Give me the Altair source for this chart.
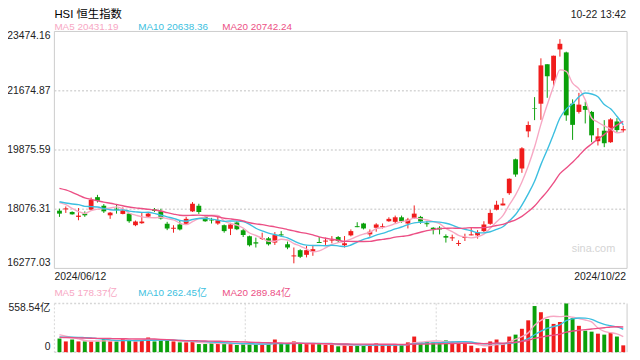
import altair as alt
import pandas as pd

# ---------------- data ----------------
title_text = "HSI 恒生指数"
time_text = "10-22 13:42"
date_labels = ["2024/06/12", "2024/10/22"]
y_ticks = [23474.16, 21674.87, 19875.59, 18076.31, 16277.03]
y_tick_labels = ["23474.16", "21674.87", "19875.59", "18076.31", "16277.03"]
vol_ticks = [558.54, 0]
vol_tick_labels = ["558.54亿", "0"]
ma_names = ["MA5", "MA10", "MA20"]
ma_price_text = ["20431.19", "20638.36", "20742.24"]
ma_vol_text = ["178.37亿", "262.45亿", "289.84亿"]

# closes / volumes of the sessions before the first candle (feed the moving averages)
pre_close = [19073.71, 19376.53, 19553.61, 19636.22, 19220.62, 19195.60, 18868.71, 18608.94,
             18827.35, 18821.16, 18477.01, 18230.19, 18079.61, 18403.04, 18444.11, 18424.96,
             18475.95, 18366.95, 18176.34]
pre_volume = [170, 180, 160, 165, 170, 150, 165, 160, 165, 165,
              150, 155, 145, 150, 154, 200, 215, 210, 215]

open_ = [18031, 18070, 17992, 17842, 17941, 18061, 18442, 18181, 17890, 18091,
         17932, 17941, 17590, 17650, 17851, 18070, 18010, 17632, 17482, 17611,
         17632, 18010, 18181, 17842, 17752, 17641, 17590, 17482, 17671, 17440,
         17251, 17071, 17170, 17191, 17062, 17311, 17011, 16642, 16831, 16690,
         16780, 17080, 17092, 17122, 17230, 16981, 17281, 17560, 17641, 17311,
         17512, 17530, 17710, 17692, 17830, 17641, 17812, 17842, 17650, 17512,
         17512, 17260, 17191, 17020, 17200, 17281, 17281, 17410, 17632, 18061,
         18190, 18562, 19591, 19312, 20440, 21150, 21280, 22478, 21980, 22928,
         22838, 21280, 21030, 21210, 21030, 20140, 20460, 20110, 20740, 20470]
high = [18091, 18160, 18010, 18112, 18010, 18430, 18511, 18232, 17992, 18211,
        18130, 17962, 17731, 17980, 17980, 18112, 18091, 17692, 17590, 17740,
        17842, 18292, 18241, 17860, 17812, 17842, 17611, 17662, 17710, 17482,
        17272, 17212, 17362, 17230, 17380, 17410, 17092, 16912, 16861, 16960,
        16990, 17230, 17212, 17260, 17260, 17260, 17461, 17680, 17662, 17461,
        17650, 17641, 17830, 17881, 17881, 17812, 18190, 17872, 17710, 17530,
        17560, 17311, 17302, 17131, 17332, 17530, 17440, 17710, 18061, 18331,
        18412, 19012, 19612, 19960, 20740, 21480, 22658, 22478, 22740, 23240,
        22860, 21411, 21609, 21339, 21060, 20541, 20781, 20841, 20841, 20611]
low = [17842, 17962, 17911, 17740, 17842, 18031, 18280, 17962, 17782, 17941,
       17920, 17662, 17560, 17632, 17812, 17992, 17761, 17440, 17362, 17431,
       17611, 17992, 17932, 17692, 17641, 17602, 17362, 17290, 17440, 17230,
       16942, 16912, 17140, 16972, 16990, 17230, 16861, 16432, 16591, 16612,
       16660, 17050, 16990, 17041, 17062, 16912, 17251, 17530, 17461, 17242,
       17392, 17491, 17692, 17632, 17662, 17491, 17782, 17632, 17542, 17311,
       17311, 17062, 17110, 16960, 17110, 17281, 17182, 17380, 17602, 18040,
       18190, 18511, 19060, 19180, 20260, 20781, 20790, 21459, 21810, 22710,
       20760, 20181, 20980, 20680, 20110, 20010, 19960, 20091, 20410, 20410]
close = [17941, 18100, 17920, 17881, 17890, 18361, 18331, 18010, 17971, 18061,
         18040, 17710, 17701, 17701, 17941, 18022, 17791, 17491, 17512, 17461,
         17782, 18241, 17992, 17710, 17731, 17740, 17410, 17611, 17470, 17290,
         16981, 17032, 17200, 17011, 17290, 17281, 16912, 16672, 16630, 16831,
         16861, 17050, 17122, 17152, 17110, 17041, 17410, 17530, 17491, 17392,
         17611, 17560, 17782, 17830, 17710, 17761, 17941, 17701, 17620, 17461,
         17461, 17212, 17221, 17050, 17230, 17311, 17380, 17611, 17962, 18211,
         18247.65, 19000.56, 19129.10, 19924.58, 20632.30, 21133.68, 22443.73, 22113.51, 22736.87, 23099.78,
         20926.79, 20637.24, 21251.98, 21092.87, 20318.79, 20286.77, 20079.11, 20804.11, 20478.46, 20507.50]
volume = [156, 123, 145, 123, 123, 123, 123, 156, 123, 123,
          156, 138, 123, 138, 168, 123, 138, 138, 123, 112,
          112, 123, 93, 93, 104, 93, 104, 93, 82, 93,
          93, 93, 82, 93, 145, 93, 93, 123, 93, 93,
          93, 93, 82, 82, 67, 82, 74, 82, 82, 82,
          100, 82, 82, 82, 82, 112, 179, 112, 123, 112,
          112, 134, 112, 112, 93, 74, 45, 45, 123, 145,
          93, 179, 201, 268, 365, 529, 458, 380, 324, 346,
          558.54, 391, 302, 246, 235, 212, 201, 223, 179, 78]

# ---------------- styling ----------------
RED = "#f01c1c"
GREEN = "#0aa00a"
C_MA = ["#f7a8c4", "#3cbfe0", "#ec4f85"]
FONT = "Liberation Sans, Arial, Noto Sans CJK SC"
TXT = "#222222"
GRID = "#d6d6d6"
FRAME = "#cccccc"

X_L, X_R = 47, 627
P_TOP, P_BOT = 21.5, 261.5
V_TOP, V_BOT = 297, 346.3

n = len(close)
xs = alt.Scale(domain=[-0.8, 89.6], range=[X_L, X_R], nice=False, zero=False)
ys = alt.Scale(domain=[y_ticks[-1], y_ticks[0]], range=[P_BOT, P_TOP], nice=False, zero=False)
vs = alt.Scale(domain=[0, vol_ticks[0]], range=[V_BOT, V_TOP], nice=False, zero=False)

df = pd.DataFrame({"i": list(range(n)), "open": open_, "high": high, "low": low,
                   "close": close, "vol": volume})
hist = pd.DataFrame({"i": list(range(-len(pre_close), n)),
                     "close": pre_close + close, "vol": pre_volume + volume})

up_color = alt.condition("datum.close >= datum.open", alt.value(RED), alt.value(GREEN))
X = alt.X("i:Q", scale=xs, axis=None)

base = alt.Chart(df)

wicks = base.mark_rule(strokeWidth=1).encode(
    x=X, y=alt.Y("low:Q", scale=ys, axis=None), y2="high:Q", color=up_color)

bodies = base.transform_calculate(xl="datum.i - 0.38", xr="datum.i + 0.38").mark_rect().encode(
    x=alt.X("xl:Q", scale=xs, axis=None), x2="xr:Q",
    y=alt.Y("open:Q", scale=ys, axis=None), y2="close:Q", color=up_color)

vbars = base.transform_calculate(xl="datum.i - 0.31", xr="datum.i + 0.31").mark_rect().encode(
    x=alt.X("xl:Q", scale=xs, axis=None), x2="xr:Q",
    y=alt.Y("vol:Q", scale=vs, axis=None), y2=alt.datum(0), color=up_color)


def ma_line(field, k, color, scale):
    return (alt.Chart(hist)
            .transform_window(m=f"mean({field})", frame=[-(k - 1), 0],
                              sort=[alt.SortField("i", order="ascending")])
            .transform_filter("datum.i >= 0")
            .mark_line(color=color, strokeWidth=1.4, interpolate="monotone")
            .encode(x=X, y=alt.Y("m:Q", scale=scale, axis=None)))


price_mas = [ma_line("close", k, c, ys) for k, c in zip([5, 10, 20], C_MA)]
vol_mas = [ma_line("vol", k, c, vs) for k, c in zip([5, 10, 20], C_MA)]

# grid and frames
grid = alt.Chart(pd.DataFrame({"v": y_ticks[1:4]})).mark_rule(
    color=GRID, strokeWidth=1.5, strokeDash=[2, 2]).encode(
    y=alt.Y("v:Q", scale=ys, axis=None), x=alt.value(X_L), x2=alt.value(X_R))
frame_h = alt.Chart(pd.DataFrame({"v": [y_ticks[0], y_ticks[-1]]})).mark_rule(
    color=FRAME, strokeWidth=1).encode(
    y=alt.Y("v:Q", scale=ys, axis=None), x=alt.value(X_L), x2=alt.value(X_R))
frame_v = alt.Chart(pd.DataFrame({"x": [X_L, X_R]})).mark_rule(
    color=FRAME, strokeWidth=1).encode(
    x=alt.X("x:Q", scale=None), y=alt.value(P_TOP), y2=alt.value(P_BOT))

vframe_h = alt.Chart(pd.DataFrame({"v": vol_ticks})).mark_rule(
    color=GRID, strokeWidth=1.5, strokeDash=[2, 2]).encode(
    y=alt.Y("v:Q", scale=vs, axis=None), x=alt.value(X_L), x2=alt.value(X_R))
vframe_v = alt.Chart(pd.DataFrame({"x": [X_L, 240.3, 433.7]})).mark_rule(
    color=GRID, strokeWidth=1, strokeDash=[2, 2]).encode(
    x=alt.X("x:Q", scale=None), y=alt.value(V_TOP), y2=alt.value(V_BOT))
vframe_r = alt.Chart(pd.DataFrame({"x": [X_R]})).mark_rule(
    color=FRAME, strokeWidth=1).encode(
    x=alt.X("x:Q", scale=None), y=alt.value(V_TOP), y2=alt.value(V_BOT))

# axis labels
def ylab(vals, labs, scale, baseline):
    return alt.Chart(pd.DataFrame({"v": vals, "t": labs})).mark_text(
        align="right", baseline=baseline, font=FONT, fontSize=10.5, color=TXT).encode(
        y=alt.Y("v:Q", scale=scale, axis=None), x=alt.value(43), text="t:N")

ylabels = [ylab(y_ticks[:1], y_tick_labels[:1], ys, "top"),
           ylab(y_ticks[1:4], y_tick_labels[1:4], ys, "middle"),
           ylab(y_ticks[4:], y_tick_labels[4:], ys, "bottom"),
           ylab(vol_ticks[:1], vol_tick_labels[:1], vs, "top"),
           ylab(vol_ticks[1:], vol_tick_labels[1:], vs, "bottom")]

d_left = alt.Chart(pd.DataFrame({"t": date_labels[:1]})).mark_text(
    align="left", baseline="middle", font=FONT, fontSize=10.5, color=TXT).encode(
    x=alt.value(X_L), y=alt.value(270), text="t:N")
d_right = alt.Chart(pd.DataFrame({"t": date_labels[1:]})).mark_text(
    align="right", baseline="middle", font=FONT, fontSize=10.5, color=TXT).encode(
    x=alt.value(X_R - 1), y=alt.value(270), text="t:N")

title = alt.Chart(pd.DataFrame({"t": [title_text]})).mark_text(
    align="left", baseline="middle", font=FONT, fontSize=11.5, color="#000000").encode(
    x=alt.value(X_L), y=alt.value(4.8), text="t:N")
tstamp = alt.Chart(pd.DataFrame({"t": [time_text]})).mark_text(
    align="right", baseline="middle", font=FONT, fontSize=10.5, color=TXT).encode(
    x=alt.value(X_R - 1), y=alt.value(4.8), text="t:N")

leg_x = [47, 132, 217]
leg_df = pd.DataFrame({
    "x": leg_x * 2,
    "y": [17.5] * 3 + [286.5] * 3,
    "t": [f"{a} {b}" for a, b in zip(ma_names, ma_price_text)] +
         [f"{a} {b}" for a, b in zip(ma_names, ma_vol_text)],
    "c": ma_names * 2,
})
legend = alt.Chart(leg_df).mark_text(
    align="left", baseline="middle", font=FONT, fontSize=10).encode(
    x=alt.X("x:Q", scale=None), y=alt.Y("y:Q", scale=None), text="t:N",
    color=alt.Color("c:N", scale=alt.Scale(domain=ma_names, range=C_MA), legend=None))

wm = alt.Chart(pd.DataFrame({"t": ["sina.com"]})).mark_text(
    align="right", baseline="middle", font=FONT, fontSize=11, color="#d4d4d4").encode(
    x=alt.value(615), y=alt.value(242), text="t:N")

chart = alt.layer(
    grid, frame_h, frame_v, vframe_h, vframe_v, vframe_r, wm,
    wicks, bodies, *price_mas,
    vbars, *vol_mas,
    *ylabels, d_left, d_right, title, tstamp, legend,
).resolve_scale(y="independent", color="independent").properties(
    width=632, height=352, padding=0, autosize=alt.AutoSizeParams(type="none"),
    background="white",
).configure_view(stroke=None)

chart.save("out.html", embed_options={"renderer": "svg", "actions": False})
